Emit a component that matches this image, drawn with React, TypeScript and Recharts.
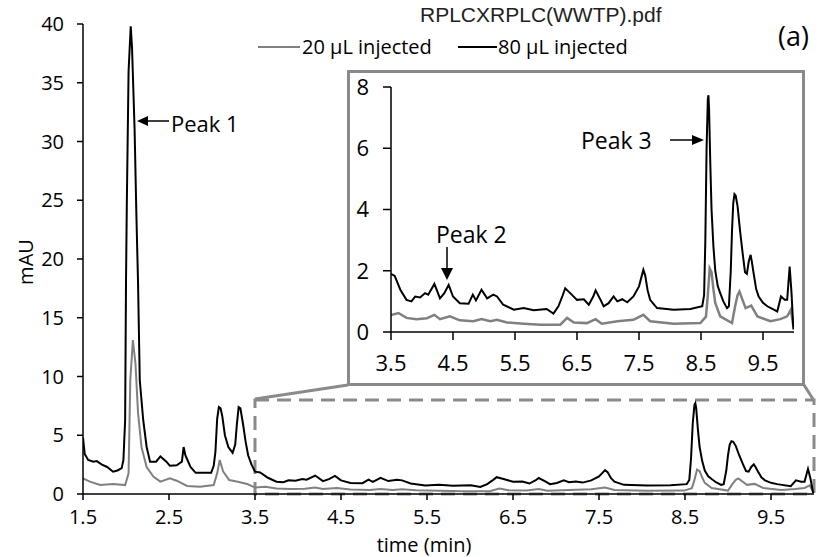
import { LineChart, Line, XAxis, YAxis, ReferenceArea } from 'recharts';

// 80 µL injected (black trace)
const blackTime = [
  1.5, 1.52, 1.56, 1.62, 1.66, 1.72, 1.78, 1.85, 1.9, 1.95, 1.97, 1.99, 2.0, 2.01, 2.03, 2.055, 2.07, 2.1, 2.12,
  2.14, 2.16, 2.2, 2.24, 2.28, 2.35, 2.4, 2.47, 2.51, 2.59, 2.65, 2.67, 2.69, 2.75, 2.81, 2.99, 3.02, 3.04, 3.06,
  3.08, 3.1, 3.12, 3.15, 3.19, 3.24, 3.27, 3.29, 3.31, 3.33, 3.36, 3.39, 3.42, 3.46, 3.5, 3.56, 3.65, 3.75, 3.83,
  3.89, 3.97, 4.05, 4.1, 4.2, 4.29, 4.36, 4.43, 4.5, 4.61, 4.75, 4.82, 4.87, 4.96, 5.05, 5.15, 5.21, 5.31, 5.48,
  5.64, 5.8, 6.01, 6.12, 6.2, 6.27, 6.31, 6.39, 6.5, 6.61, 6.69, 6.76, 6.8, 6.88, 6.93, 7.01, 7.09, 7.15, 7.23,
  7.31, 7.41, 7.5, 7.54, 7.57, 7.6, 7.64, 7.68, 7.79, 8.06, 8.33, 8.52, 8.55, 8.57, 8.59, 8.61, 8.62, 8.63, 8.65,
  8.67, 8.7, 8.73, 8.77, 8.81, 8.86, 8.92, 8.95, 8.98, 9.0, 9.02, 9.04, 9.06, 9.09, 9.13, 9.17, 9.21, 9.24, 9.27,
  9.3, 9.32, 9.35, 9.39, 9.43, 9.5, 9.57, 9.73, 9.79, 9.85, 9.89, 9.93, 9.96, 9.99,
];
const blackMau = [
  4.8, 3.4, 2.9, 2.75, 2.8, 2.5, 2.3, 1.9, 2.0, 2.2, 2.9, 6.3, 18, 25, 36, 39.8, 38, 31, 24,
  18, 9.7, 6.3, 4.0, 2.75, 2.75, 3.2, 2.75, 2.4, 2.45, 2.75, 4.0, 3.3, 2.3, 1.8, 1.8, 2.4, 3.6, 6.4,
  7.4, 7.3, 6.6, 5.0, 4.0, 3.5, 4.2, 6.0, 7.4, 7.3, 6.0, 4.5, 3.3, 2.5, 1.9, 1.83, 1.38, 1.05, 1.0,
  1.16, 1.13, 1.27, 1.22, 1.57, 1.1, 1.27, 1.54, 1.16, 0.94, 0.92, 1.22, 1.03, 1.38, 1.1, 1.22, 1.16, 0.89, 0.73,
  0.78, 0.71, 0.75, 0.6, 0.84, 1.2, 1.43, 1.27, 1.05, 1.07, 0.89, 1.15, 1.36, 1.05, 0.84, 0.94, 1.16, 1.0, 1.07,
  0.97, 1.16, 1.49, 1.8, 2.03, 1.85, 1.35, 1.05, 0.78, 0.73, 0.75, 0.84, 1.2, 3.0, 6.0, 7.6, 7.73, 7.3, 5.5,
  4.0, 2.8, 2.0, 1.5, 1.27, 1.0, 0.78, 0.84, 2.0, 3.3, 4.2, 4.5, 4.45, 4.1, 3.3, 2.6, 1.95, 1.9, 2.3,
  2.52, 2.3, 1.9, 1.4, 1.16, 0.95, 0.84, 0.67, 1.16, 1.05, 1.05, 2.14, 1.27, 0.08,
];

// 20 µL injected (gray trace)
const grayTime = [
  1.5, 1.58, 1.7, 1.85, 1.99, 2.03, 2.05, 2.08, 2.11, 2.14, 2.18, 2.24, 2.32, 2.4, 2.51, 2.59, 2.71, 2.86, 3.02,
  3.06, 3.09, 3.13, 3.2, 3.3, 3.41, 3.5, 3.62, 3.75, 3.91, 4.08, 4.2, 4.29, 4.45, 4.61, 4.83, 4.96, 5.1, 5.21,
  5.37, 5.64, 5.91, 6.23, 6.34, 6.45, 6.66, 6.8, 6.9, 7.15, 7.41, 7.57, 7.68, 8.06, 8.49, 8.58, 8.61, 8.64, 8.67,
  8.7, 8.73, 8.81, 9.0, 9.05, 9.09, 9.12, 9.16, 9.22, 9.31, 9.41, 9.62, 9.78, 9.89, 9.95, 9.99,
];
const grayMau = [
  1.33, 1.05, 0.76, 0.85, 0.76, 1.76, 9.7, 13.1, 11.1, 6.9, 4.0, 2.3, 1.47, 1.05, 1.33, 1.13, 0.68, 0.62, 0.76,
  1.76, 2.89, 1.9, 1.19, 1.05, 0.85, 0.55, 0.62, 0.46, 0.42, 0.45, 0.56, 0.42, 0.51, 0.38, 0.35, 0.42, 0.35, 0.4,
  0.31, 0.27, 0.24, 0.24, 0.46, 0.31, 0.29, 0.42, 0.27, 0.35, 0.4, 0.56, 0.35, 0.27, 0.29, 0.5, 1.2, 2.08, 1.95,
  1.4, 0.95, 0.51, 0.29, 0.84, 1.2, 1.32, 1.1, 0.78, 0.86, 0.51, 0.35, 0.42, 0.51, 0.73, 0.18,
];

const mainXTicks = [1.5, 2.5, 3.5, 4.5, 5.5, 6.5, 7.5, 8.5, 9.5];
const mainYTicks = [0, 5, 10, 15, 20, 25, 30, 35, 40];
const insetXTicks = [3.5, 4.5, 5.5, 6.5, 7.5, 8.5, 9.5];
const insetYTicks = [0, 2, 4, 6, 8];
const zoomWindow = { from: 3.5, to: 10, top: 8 };

const black = blackTime.map((t, i) => ({ t, v: blackMau[i] }));
const gray = grayTime.map((t, i) => ({ t, v: grayMau[i] }));
const blackZoom = black.filter((p) => p.t >= zoomWindow.from);
const grayZoom = gray.filter((p) => p.t >= zoomWindow.from);

const FONT = "'Open Sans', sans-serif";
const GRAY = '#808080';
const BOX = '#8a8a8a';

export default function App() {
  return (
    <div style={{ position: 'absolute', left: 0, top: 0, width: 825, height: 557, background: '#fff', overflow: 'hidden' }}>
      <LineChart width={825} height={557} margin={{ top: 24, right: 11, bottom: 33, left: 43 }}>
        <XAxis
          type="number"
          dataKey="t"
          domain={[1.5, 10]}
          ticks={mainXTicks}
          height={30}
          tickSize={6}
          tickMargin={10}
          axisLine={{ stroke: '#000', strokeWidth: 1.5 }}
          tickLine={{ stroke: '#000', strokeWidth: 1.5 }}
          tick={{ fill: '#000', fontSize: 20, fontFamily: FONT }}
          allowDataOverflow
        />
        <YAxis
          type="number"
          domain={[0, 40]}
          ticks={mainYTicks}
          width={40}
          tickSize={6}
          tickMargin={13}
          axisLine={{ stroke: '#000', strokeWidth: 1.5 }}
          tickLine={{ stroke: '#000', strokeWidth: 1.5 }}
          tick={{ fill: '#000', fontSize: 20, fontFamily: FONT }}
        />
        <ReferenceArea
          x1={zoomWindow.from}
          x2={zoomWindow.to}
          y1={0}
          y2={zoomWindow.top}
          fill="none"
          stroke={BOX}
          strokeWidth={3}
          strokeDasharray="14 8"
        />
        <Line data={gray} dataKey="v" type="linear" stroke={GRAY} strokeWidth={2} dot={false} isAnimationActive={false} />
        <Line data={black} dataKey="v" type="linear" stroke="#000" strokeWidth={2} dot={false} isAnimationActive={false} />
      </LineChart>

      {/* inset: chart fills the whole box, the frame is drawn on top */}
      <div style={{ position: 'absolute', left: 347, top: 70, width: 458, height: 316, background: '#fff' }}>
        <LineChart width={458} height={316} margin={{ top: 17, right: 11, bottom: 19, left: 6 }}>
          <XAxis
            type="number"
            dataKey="t"
            domain={[3.5, 10]}
            ticks={insetXTicks}
            height={35}
            tickSize={8}
            tickMargin={15}
            axisLine={{ stroke: '#000', strokeWidth: 1.5 }}
            tickLine={{ stroke: '#000', strokeWidth: 1.5 }}
            tick={{ fill: '#000', fontSize: 22, fontFamily: FONT }}
            allowDataOverflow
          />
          <YAxis
            type="number"
            domain={[0, 8]}
            ticks={insetYTicks}
            width={38}
            tickSize={8}
            tickMargin={14}
            axisLine={{ stroke: '#000', strokeWidth: 1.5 }}
            tickLine={{ stroke: '#000', strokeWidth: 1.5 }}
            tick={{ fill: '#000', fontSize: 22, fontFamily: FONT }}
          />
          <Line data={grayZoom} dataKey="v" type="linear" stroke={GRAY} strokeWidth={2.5} dot={false} isAnimationActive={false} />
          <Line data={blackZoom} dataKey="v" type="linear" stroke="#000" strokeWidth={2} dot={false} isAnimationActive={false} />
        </LineChart>
      </div>
      <div
        style={{
          position: 'absolute',
          left: 347,
          top: 70,
          width: 458,
          height: 316,
          boxSizing: 'border-box',
          border: `3px solid ${BOX}`,
          pointerEvents: 'none',
        }}
      />

      {/* annotations */}
      <svg width={825} height={557} style={{ position: 'absolute', left: 0, top: 0, pointerEvents: 'none' }}>
        <text x={420} y={22} fontFamily="'Liberation Sans', Arial, sans-serif" fontSize={21} fill="#222">
          RPLCXRPLC(WWTP).pdf
        </text>
        <text x={778} y={46} fontFamily={FONT} fontSize={27} fill="#000">(a)</text>

        <line x1={258} y1={47} x2={300} y2={47} stroke={GRAY} strokeWidth={2} />
        <text x={302} y={54} fontFamily={FONT} fontSize={20} fill="#000">20 µL injected</text>
        <line x1={458} y1={47} x2={497} y2={47} stroke="#000" strokeWidth={2} />
        <text x={498} y={54} fontFamily={FONT} fontSize={20} fill="#000">80 µL injected</text>

        <text x={33} y={262} transform="rotate(-90 33 262)" textAnchor="middle" fontFamily={FONT} fontSize={20} fill="#000">
          mAU
        </text>
        <text x={424} y={552} textAnchor="middle" fontFamily={FONT} fontSize={20} fill="#000">time (min)</text>

        {/* connectors from the dashed window to the inset */}
        <line x1={255} y1={399} x2={348} y2={385} stroke={BOX} strokeWidth={3} />
        <line x1={813} y1={399} x2={804} y2={385} stroke={BOX} strokeWidth={3} />

        {/* Peak 1 */}
        <line x1={146} y1={121} x2={169} y2={121} stroke="#000" strokeWidth={1.5} />
        <polygon points="137,121 148,116 148,126" fill="#000" />
        <text x={171} y={132} fontFamily={FONT} fontSize={22} fill="#000">Peak 1</text>

        {/* Peak 2 */}
        <text x={436} y={243} fontFamily={FONT} fontSize={23} fill="#000">Peak 2</text>
        <line x1={447} y1={247} x2={447} y2={270} stroke="#000" strokeWidth={1.5} />
        <polygon points="447,280 441,268 453,268" fill="#000" />

        {/* Peak 3 */}
        <text x={581} y={149} fontFamily={FONT} fontSize={23} fill="#000">Peak 3</text>
        <line x1={670} y1={140} x2={694} y2={140} stroke="#000" strokeWidth={1.5} />
        <polygon points="704,140 692,135 692,145" fill="#000" />
      </svg>
    </div>
  );
}
